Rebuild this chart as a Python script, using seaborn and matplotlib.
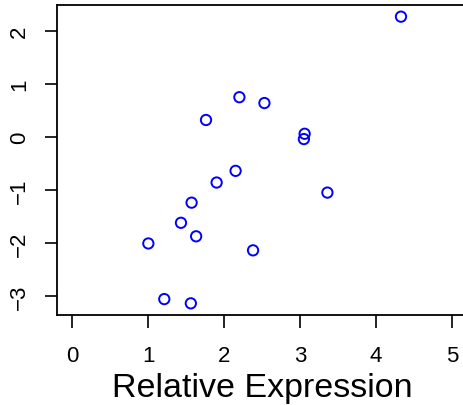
import matplotlib
matplotlib.use("Agg")
import matplotlib.pyplot as plt
import seaborn as sns
import pandas as pd

expr = [4.33, 2.20, 2.53, 1.76, 3.06, 3.05, 2.15, 1.90, 3.36, 2.38, 1.57, 1.43, 1.63, 1.00, 1.21, 1.56]
score = [2.27, 0.75, 0.64, 0.32, 0.06, -0.04, -0.64, -0.86, -1.05, -2.14, -1.24, -1.62, -1.875, -2.01, -3.06, -3.14]
xticks = [0, 1, 2, 3, 4, 5]
yticks = [-3, -2, -1, 0, 1, 2]

sns.set_style("white")
plt.rcParams['font.family'] = ['Liberation Sans', 'DejaVu Sans']

df = pd.DataFrame({"x": expr, "y": score})
fig = plt.figure(figsize=(4.64, 4.06), dpi=100)
ax = fig.add_axes([57.3 / 464, 90 / 406, (467 - 57.3) / 464, (316 - 6) / 406])
sns.scatterplot(data=df, x="x", y="y", ax=ax, s=55, facecolors="none",
                edgecolors="blue", linewidths=1.4, marker="o", legend=False)
ax.set_xlim(-0.2, 5.2)
ax.set_ylim(-3.36, 2.49)
ax.set_xticks(xticks)
ax.set_yticks(yticks)
ax.set_xticklabels([str(v) for v in xticks])
ax.set_yticklabels([("\u2212" + str(-v)) if v < 0 else str(v) for v in yticks],
                   rotation=90, va="center")
ax.tick_params(axis="both", direction="out", length=9, width=1.2, colors="black",
               labelcolor="black", labelsize=16, bottom=True, left=True)
ax.tick_params(axis="x", pad=12.5)
ax.tick_params(axis="y", pad=10.5)
for sp in ax.spines.values():
    sp.set_color("black")
    sp.set_linewidth(1.3)
ax.set_xlabel("Relative Expression", fontsize=24.5, labelpad=4.5, color="black")
ax.set_ylabel("")
fig.savefig("out.png", dpi=100)
